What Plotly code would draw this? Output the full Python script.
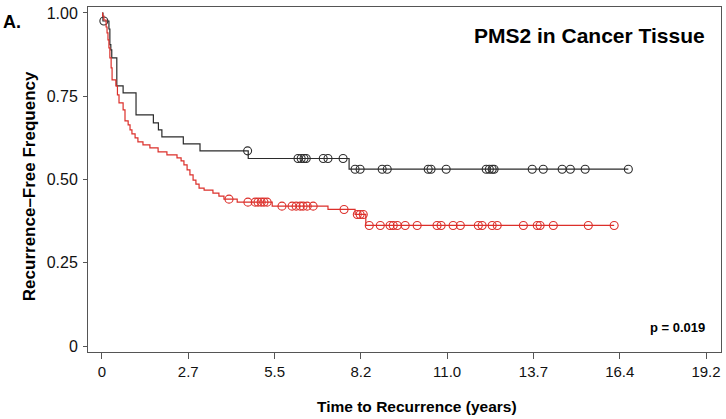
import plotly.graph_objects as go

# ---- data ----
# x tick labels are 1000-day steps expressed in years
x_tick_days = [0, 1000, 2000, 3000, 4000, 5000, 6000, 7000]
x_tick_labels = ["0", "2.7", "5.5", "8.2", "11.0", "13.7", "16.4", "19.2"]
y_tick_vals = [0, 0.25, 0.5, 0.75, 1.0]
y_tick_labels = ["0", "0.25", "0.50", "0.75", "1.00"]

# Black group (higher curve): event times (years) and survival after each event
black_times = [0.03, 0.22, 0.25, 0.28, 0.31, 0.47, 0.67, 1.08, 1.63, 1.79, 1.90, 2.58, 3.11, 4.64, 7.84]
black_surv = [0.976, 0.952, 0.905, 0.889, 0.865, 0.781, 0.760, 0.694, 0.670, 0.649, 0.628, 0.607, 0.586, 0.563, 0.531]
black_censor = [0.06, 4.62, 6.22, 6.32, 6.41, 6.48, 7.02, 7.17, 7.65, 8.03, 8.19, 8.89, 9.05,
                10.35, 10.44, 10.92, 12.19, 12.29, 12.38, 12.44, 13.65, 14.0, 14.6, 14.86, 15.33, 16.70]

# Red group (lower curve)
red_times = [0.02, 0.06, 0.13, 0.16, 0.19, 0.22, 0.25, 0.29, 0.32, 0.44, 0.49, 0.54, 0.67, 0.73,
             0.83, 0.89, 0.95, 1.05, 1.14, 1.30, 1.52, 1.78, 2.06, 2.38, 2.51, 2.60, 2.70, 2.79,
             2.89, 2.98, 3.08, 3.24, 3.52, 3.71, 3.87, 4.29, 5.40, 7.17, 8.03, 8.37]
red_surv = [0.991, 0.979, 0.958, 0.940, 0.919, 0.895, 0.865, 0.835, 0.799, 0.781, 0.754, 0.730,
            0.709, 0.676, 0.664, 0.649, 0.637, 0.625, 0.613, 0.604, 0.595, 0.583, 0.574, 0.565,
            0.556, 0.544, 0.529, 0.514, 0.498, 0.486, 0.474, 0.468, 0.459, 0.450, 0.441, 0.432,
            0.420, 0.410, 0.395, 0.362]
red_censor = [4.03, 4.63, 4.86, 4.95, 5.05, 5.14, 5.24, 5.71, 6.03, 6.16, 6.29, 6.38, 6.51, 6.70,
              7.68, 8.10, 8.19, 8.29, 8.48, 8.83, 9.14, 9.24, 9.37, 9.62, 10.0, 10.63, 10.76,
              11.14, 11.37, 11.94, 12.06, 12.38, 12.54, 13.37, 13.81, 13.90, 14.32, 15.43, 16.25]

BLACK = "#2b2b2b"
RED = "#dc2f2a"


def surv_at(t, times, surv):
    s = 1.0
    for ti, si in zip(times, surv):
        if ti <= t:
            s = si
    return s


fig = go.Figure()


def add_group(times, surv, censor, color):
    end = max(censor[-1], times[-1])
    xs = [0.0] + times + [end]
    ys = [1.0] + surv + [surv[-1]]
    fig.add_trace(go.Scatter(x=xs, y=ys, mode="lines", line=dict(color=color, width=1.2, shape="hv"),
                             hoverinfo="skip", showlegend=False))
    fig.add_trace(go.Scatter(x=censor, y=[surv_at(c, times, surv) for c in censor], mode="markers",
                             marker=dict(symbol="circle-open", size=8, color=color, line=dict(width=1.1)),
                             showlegend=False))


add_group(black_times, black_surv, black_censor, BLACK)
add_group(red_times, red_surv, red_censor, RED)

x_tick_vals = [d / 365.25 for d in x_tick_days]

fig.update_layout(
    width=726, height=419,
    margin=dict(l=88, r=5, t=7, b=67),
    paper_bgcolor="white", plot_bgcolor="white",
    showlegend=False,
    xaxis=dict(range=[-0.444, 19.64], tickvals=x_tick_vals, ticktext=x_tick_labels,
               ticks="outside", ticklen=6, tickcolor="#555", showgrid=False, zeroline=False,
               showline=True, linecolor="#555", linewidth=1, mirror=True,
               tickfont=dict(family="Liberation Sans, Arial", size=15, color="#111")),
    yaxis=dict(range=[-0.018, 1.018], tickvals=y_tick_vals, ticktext=y_tick_labels,
               ticks="outside", ticklen=4, tickcolor="#555", showgrid=False, zeroline=False,
               showline=True, linecolor="#555", linewidth=1, mirror=True, ticklabelstandoff=2,
               tickfont=dict(family="Liberation Sans, Arial", size=16, color="#111")),
    annotations=[
        dict(text="<b>PMS2 in Cancer Tissue</b>", xref="paper", yref="paper", x=0.978, y=0.918,
             xanchor="right", yanchor="middle", showarrow=False,
             font=dict(family="Liberation Sans, Arial", size=21, color="#000")),
        dict(text="<b>A.</b>", xref="paper", yref="paper", x=-0.138, y=0.957,
             xanchor="left", yanchor="middle", showarrow=False,
             font=dict(family="Liberation Sans, Arial", size=18, color="#000")),
        dict(text="<b>p = 0.019</b>", xref="paper", yref="paper", x=0.978, y=0.07,
             xanchor="right", yanchor="middle", showarrow=False,
             font=dict(family="Liberation Sans, Arial", size=13, color="#000")),
        dict(text="<b>Time to Recurrence (years)</b>", xref="paper", yref="paper", x=0.52, y=-0.158,
             xanchor="center", yanchor="middle", showarrow=False,
             font=dict(family="Liberation Sans, Arial", size=15.5, color="#000")),
        dict(text="<b>Recurrence–Free Frequency</b>", xref="paper", yref="paper", x=-0.092, y=0.48,
             xanchor="center", yanchor="middle", showarrow=False, textangle=-90,
             font=dict(family="Liberation Sans, Arial", size=17, color="#000")),
    ],
)

fig.write_html("out.html", config={"displayModeBar": False},
               post_script="document.body.style.margin='0';document.body.style.padding='0';")
